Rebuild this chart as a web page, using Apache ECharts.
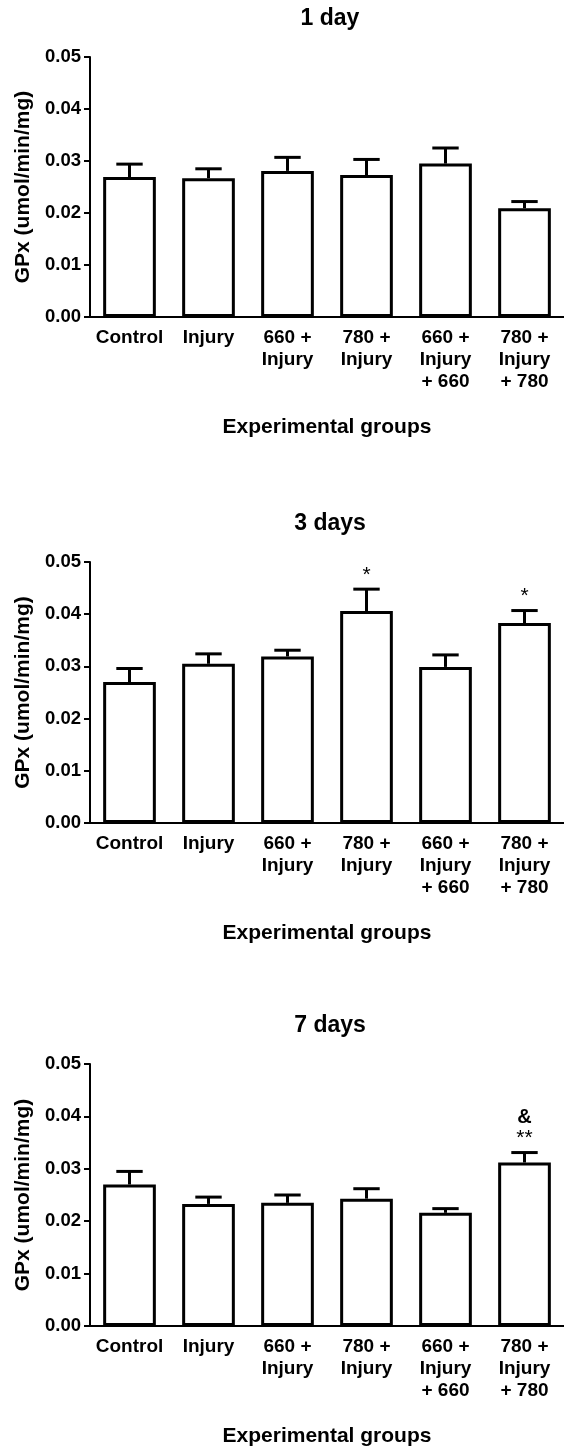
<!DOCTYPE html>
<html>
<head>
<meta charset="utf-8">
<script src="https://cdn.jsdelivr.net/npm/echarts@6/dist/echarts.min.js"></script>
<style>
html,body{margin:0;padding:0;background:#fff;}
#chart{width:564px;height:1450px;}
</style>
</head>
<body>
<div id="chart"></div>
<script>
// ---- data ----
const categories = ['Control', 'Injury', '660 +\nInjury', '780 +\nInjury', '660 +\nInjury\n+ 660', '780 +\nInjury\n+ 780'];
const panelTitles = ['1 day', '3 days', '7 days'];
const yTicks = [0.00, 0.01, 0.02, 0.03, 0.04, 0.05];

const day1Mean = [0.0269, 0.0267, 0.0281, 0.0273, 0.0295, 0.0209];
const day1Sem  = [0.0025, 0.0018, 0.0026, 0.0030, 0.0030, 0.0013];
const day1Marks = ['', '', '', '', '', ''];

const day3Mean = [0.0270, 0.0305, 0.0319, 0.0406, 0.0299, 0.0383];
const day3Sem  = [0.0026, 0.0019, 0.0012, 0.0042, 0.0023, 0.0024];
const day3Marks = ['', '', '', '*', '', '*'];

const day7Mean = [0.0270, 0.0233, 0.0235, 0.0243, 0.0216, 0.0312];
const day7Sem  = [0.0025, 0.0013, 0.0015, 0.0019, 0.0008, 0.0019];
const day7Marks = ['', '', '', '', '', '&\n**'];

const panels = [
  {title: panelTitles[0], mean: day1Mean, sem: day1Sem, marks: day1Marks},
  {title: panelTitles[1], mean: day3Mean, sem: day3Sem, marks: day3Marks},
  {title: panelTitles[2], mean: day7Mean, sem: day7Sem, marks: day7Marks}
];

// ---- layout ----
const FONT = '"Liberation Sans", Arial, Helvetica, sans-serif';
const gridTops = [57, 562, 1064];
const gridHeights = [260, 261, 262];
const gridLeft = 90;
const gridWidth = 480;

const chart = echarts.init(document.getElementById('chart'), null, {renderer: 'canvas'});

const grids = [], xAxes = [], yAxes = [], series = [], graphics = [];

panels.forEach((p, i) => {
  grids.push({left: gridLeft, top: gridTops[i], width: gridWidth, height: gridHeights[i], containLabel: false});
  xAxes.push({
    type: 'category', gridIndex: i, data: categories,
    axisLine: {lineStyle: {color: '#000', width: 2}},
    axisTick: {alignWithLabel: true, length: 6, lineStyle: {color: '#000', width: 2}},
    axisLabel: {color: '#000', fontFamily: FONT, fontWeight: 'bold', fontSize: 19, lineHeight: 22, margin: 10, interval: 0},
    name: 'Experimental groups', nameLocation: 'middle', nameGap: 100,
    nameTextStyle: {color: '#000', fontFamily: FONT, fontWeight: 'bold', fontSize: 21}
  });
  yAxes.push({
    type: 'value', gridIndex: i, min: 0, max: 0.05, interval: 0.01,
    splitLine: {show: false},
    axisLine: {show: true, lineStyle: {color: '#000', width: 2}},
    axisTick: {show: true, length: 6, lineStyle: {color: '#000', width: 2}},
    axisLabel: {color: '#000', fontFamily: FONT, fontWeight: 'bold', fontSize: 18.5, margin: 9,
      formatter: v => v.toFixed(2)},
    name: 'GPx (umol/min/mg)', nameLocation: 'middle', nameGap: 56, nameRotate: 90,
    nameTextStyle: {color: '#000', fontFamily: FONT, fontWeight: 'bold', fontSize: 21}
  });
  series.push({
    type: 'bar', xAxisIndex: i, yAxisIndex: i, data: p.mean, barWidth: '66.7%',
    itemStyle: {color: '#fff', borderColor: '#000', borderWidth: 3},
    silent: true, z: 2
  });
  const errData = p.mean.map((m, k) => [k, m, m + p.sem[k], p.marks[k]]);
  series.push({
    type: 'custom', xAxisIndex: i, yAxisIndex: i, data: errData, z: 3, silent: true,
    renderItem: (params, api) => {
      const k = api.value(0);
      const mean = api.value(1);
      const top = api.value(2);
      const mark = errData[params.dataIndex][3];
      const p0 = api.coord([k, mean]);
      const p1 = api.coord([k, top]);
      const half = api.size([1, 0])[0] * 0.167;
      const children = [
        {type: 'line', shape: {x1: p0[0], y1: p0[1], x2: p1[0], y2: p1[1]}, style: {stroke: '#000', lineWidth: 3}},
        {type: 'line', shape: {x1: p1[0] - half, y1: p1[1], x2: p1[0] + half, y2: p1[1]}, style: {stroke: '#000', lineWidth: 3}}
      ];
      if (mark) {
        const hasAmp = mark.indexOf('&') >= 0;
        const txt = hasAmp ? '{amp|&}\n{st|**}' : '{st|' + mark + '}';
        children.push({
          type: 'text', x: p1[0], y: p1[1] - 4,
          style: {
            text: txt, align: 'center', verticalAlign: 'bottom',
            rich: {
              amp: {fontFamily: FONT, fontWeight: 'bold', fontSize: 20, lineHeight: 22, fill: '#000', align: 'center'},
              st: {fontFamily: FONT, fontWeight: 'normal', fontSize: 21, lineHeight: 20, fill: '#000', align: 'center'}
            }
          }
        });
      }
      return {type: 'group', children};
    }
  });
  graphics.push({
    type: 'text', x: gridLeft + gridWidth / 2, y: gridTops[i] - 38,
    style: {text: p.title, font: 'bold 23px ' + FONT, fill: '#000',
      align: 'center', verticalAlign: 'middle', textAlign: 'center', textVerticalAlign: 'middle'}
  });
});

chart.setOption({
  animation: false,
  backgroundColor: '#fff',
  grid: grids, xAxis: xAxes, yAxis: yAxes, series: series, graphic: graphics
});
</script>
</body>
</html>
